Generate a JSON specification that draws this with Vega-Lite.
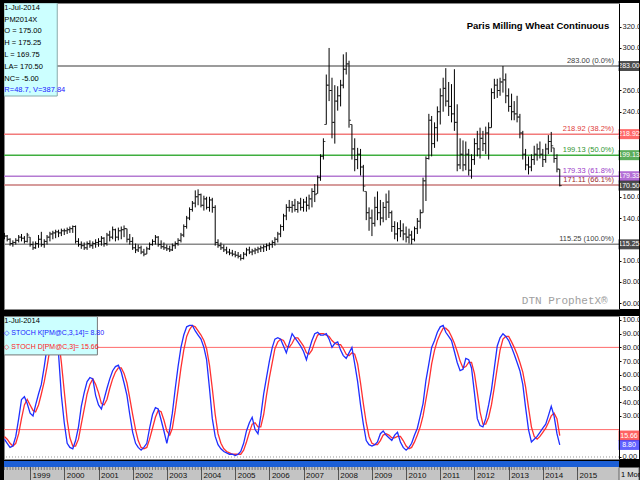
{
"$schema":"https://vega.github.io/schema/vega-lite/v6.json",
"padding":{"left":2,"top":2,"right":0,"bottom":2},
"background":"black",
"spacing":5,
"config":{"font":"Liberation Sans, Arial, sans-serif","view":{"stroke":"#888"},"axis":{"labelFont":"Liberation Sans, Arial, sans-serif","labelFontSize":7.5,"labelColor":"#222","domainColor":"#000","tickColor":"#000","grid":false}},
"datasets":{
"px":[
{"d":"1998-04-01","o":124,"h":126,"l":120,"c":123,"k":13,"s":15},
{"d":"1998-05-01","o":123,"h":124,"l":118,"c":120,"k":10,"s":13},
{"d":"1998-06-01","o":120,"h":121,"l":114,"c":116,"k":7,"s":10},
{"d":"1998-07-01","o":116,"h":119,"l":113,"c":117,"k":8,"s":8},
{"d":"1998-08-01","o":117,"h":121,"l":115,"c":119,"k":15,"s":10},
{"d":"1998-09-01","o":119,"h":124,"l":117,"c":122,"k":28,"s":17},
{"d":"1998-10-01","o":122,"h":125,"l":118,"c":121,"k":42,"s":28},
{"d":"1998-11-01","o":121,"h":123,"l":116,"c":118,"k":44,"s":38},
{"d":"1998-12-01","o":118,"h":126,"l":117,"c":124,"k":39,"s":42},
{"d":"1999-01-01","o":122,"h":122,"l":113,"c":115,"k":32,"s":38},
{"d":"1999-02-01","o":115,"h":118,"l":110,"c":112,"k":30,"s":34},
{"d":"1999-03-01","o":112,"h":118,"l":111,"c":116,"k":38,"s":33},
{"d":"1999-04-01","o":116,"h":124,"l":112,"c":120,"k":46,"s":38},
{"d":"1999-05-01","o":120,"h":127,"l":113,"c":115,"k":53,"s":46},
{"d":"1999-06-01","o":115,"h":120,"l":112,"c":118,"k":66,"s":55},
{"d":"1999-07-01","o":118,"h":124,"l":115,"c":122,"k":80,"s":66},
{"d":"1999-08-01","o":122,"h":127,"l":118,"c":125,"k":90,"s":79},
{"d":"1999-09-01","o":125,"h":128,"l":120,"c":126,"k":94,"s":88},
{"d":"1999-10-01","o":126,"h":129,"l":121,"c":127,"k":88,"s":91},
{"d":"1999-11-01","o":127,"h":129,"l":122,"c":126,"k":75,"s":86},
{"d":"1999-12-01","o":126,"h":130,"l":123,"c":128,"k":45,"s":69},
{"d":"2000-01-01","o":128,"h":130,"l":124,"c":128,"k":25,"s":48},
{"d":"2000-02-01","o":128,"h":131,"l":125,"c":129,"k":10,"s":27},
{"d":"2000-03-01","o":129,"h":132,"l":126,"c":130,"k":7,"s":14},
{"d":"2000-04-01","o":130,"h":133,"l":126,"c":132,"k":6,"s":8},
{"d":"2000-05-01","o":132,"h":133,"l":116,"c":118,"k":12,"s":8},
{"d":"2000-06-01","o":118,"h":121,"l":113,"c":115,"k":22,"s":13},
{"d":"2000-07-01","o":115,"h":118,"l":111,"c":114,"k":37,"s":24},
{"d":"2000-08-01","o":114,"h":117,"l":110,"c":112,"k":47,"s":35},
{"d":"2000-09-01","o":112,"h":118,"l":110,"c":116,"k":55,"s":46},
{"d":"2000-10-01","o":116,"h":119,"l":112,"c":114,"k":58,"s":53},
{"d":"2000-11-01","o":114,"h":118,"l":111,"c":116,"k":57,"s":57},
{"d":"2000-12-01","o":116,"h":120,"l":112,"c":117,"k":45,"s":53},
{"d":"2001-01-01","o":117,"h":121,"l":113,"c":118,"k":38,"s":47},
{"d":"2001-02-01","o":118,"h":123,"l":114,"c":121,"k":35,"s":39},
{"d":"2001-03-01","o":121,"h":122,"l":113,"c":116,"k":42,"s":38},
{"d":"2001-04-01","o":116,"h":126,"l":114,"c":124,"k":50,"s":42},
{"d":"2001-05-01","o":124,"h":128,"l":118,"c":122,"k":57,"s":50},
{"d":"2001-06-01","o":122,"h":132,"l":120,"c":129,"k":63,"s":57},
{"d":"2001-07-01","o":129,"h":130,"l":118,"c":122,"k":66,"s":62},
{"d":"2001-08-01","o":122,"h":131,"l":119,"c":128,"k":67,"s":65},
{"d":"2001-09-01","o":128,"h":132,"l":120,"c":129,"k":62,"s":65},
{"d":"2001-10-01","o":129,"h":133,"l":122,"c":130,"k":54,"s":61},
{"d":"2001-11-01","o":130,"h":130,"l":117,"c":120,"k":45,"s":54},
{"d":"2001-12-01","o":120,"h":125,"l":115,"c":118,"k":31,"s":43},
{"d":"2002-01-01","o":118,"h":122,"l":110,"c":112,"k":18,"s":31},
{"d":"2002-02-01","o":112,"h":116,"l":107,"c":110,"k":10,"s":20},
{"d":"2002-03-01","o":110,"h":115,"l":108,"c":112,"k":7,"s":12},
{"d":"2002-04-01","o":112,"h":114,"l":106,"c":108,"k":5,"s":7},
{"d":"2002-05-01","o":108,"h":111,"l":104,"c":106,"k":7,"s":6},
{"d":"2002-06-01","o":106,"h":113,"l":106,"c":111,"k":10,"s":7},
{"d":"2002-07-01","o":111,"h":117,"l":110,"c":115,"k":21,"s":13},
{"d":"2002-08-01","o":115,"h":120,"l":114,"c":118,"k":31,"s":21},
{"d":"2002-09-01","o":118,"h":124,"l":115,"c":122,"k":36,"s":29},
{"d":"2002-10-01","o":122,"h":123,"l":113,"c":115,"k":35,"s":34},
{"d":"2002-11-01","o":115,"h":119,"l":111,"c":113,"k":27,"s":33},
{"d":"2002-12-01","o":113,"h":117,"l":110,"c":112,"k":19,"s":27},
{"d":"2003-01-01","o":112,"h":115,"l":109,"c":111,"k":10,"s":19},
{"d":"2003-02-01","o":111,"h":114,"l":108,"c":110,"k":20,"s":16},
{"d":"2003-03-01","o":110,"h":116,"l":109,"c":114,"k":32,"s":21},
{"d":"2003-04-01","o":114,"h":118,"l":111,"c":116,"k":50,"s":34},
{"d":"2003-05-01","o":116,"h":121,"l":114,"c":119,"k":66,"s":49},
{"d":"2003-06-01","o":119,"h":126,"l":117,"c":124,"k":80,"s":65},
{"d":"2003-07-01","o":124,"h":134,"l":122,"c":132,"k":89,"s":78},
{"d":"2003-08-01","o":132,"h":142,"l":130,"c":140,"k":95,"s":88},
{"d":"2003-09-01","o":140,"h":150,"l":138,"c":148,"k":96,"s":93},
{"d":"2003-10-01","o":148,"h":156,"l":146,"c":154,"k":96,"s":96},
{"d":"2003-11-01","o":154,"h":166,"l":150,"c":160,"k":92,"s":95},
{"d":"2003-12-01","o":160,"h":167,"l":152,"c":162,"k":89,"s":92},
{"d":"2004-01-01","o":162,"h":163,"l":150,"c":152,"k":86,"s":89},
{"d":"2004-02-01","o":152,"h":161,"l":147,"c":158,"k":80,"s":85},
{"d":"2004-03-01","o":158,"h":160,"l":148,"c":150,"k":71,"s":79},
{"d":"2004-04-01","o":150,"h":160,"l":146,"c":157,"k":50,"s":67},
{"d":"2004-05-01","o":157,"h":159,"l":145,"c":150,"k":28,"s":50},
{"d":"2004-06-01","o":150,"h":152,"l":114,"c":117,"k":15,"s":31},
{"d":"2004-07-01","o":117,"h":120,"l":112,"c":114,"k":9,"s":17},
{"d":"2004-08-01","o":114,"h":117,"l":110,"c":112,"k":6,"s":10},
{"d":"2004-09-01","o":112,"h":115,"l":108,"c":110,"k":4,"s":6},
{"d":"2004-10-01","o":110,"h":113,"l":106,"c":108,"k":3,"s":4},
{"d":"2004-11-01","o":108,"h":111,"l":105,"c":107,"k":2,"s":3},
{"d":"2004-12-01","o":107,"h":110,"l":104,"c":106,"k":2,"s":2},
{"d":"2005-01-01","o":106,"h":109,"l":103,"c":105,"k":1,"s":2},
{"d":"2005-02-01","o":105,"h":108,"l":102,"c":104,"k":2,"s":2},
{"d":"2005-03-01","o":104,"h":106,"l":100,"c":102,"k":4,"s":2},
{"d":"2005-04-01","o":102,"h":108,"l":101,"c":106,"k":10,"s":5},
{"d":"2005-05-01","o":106,"h":112,"l":104,"c":110,"k":19,"s":11},
{"d":"2005-06-01","o":110,"h":113,"l":106,"c":108,"k":25,"s":18},
{"d":"2005-07-01","o":108,"h":111,"l":105,"c":109,"k":29,"s":24},
{"d":"2005-08-01","o":109,"h":112,"l":106,"c":110,"k":20,"s":25},
{"d":"2005-09-01","o":110,"h":113,"l":107,"c":111,"k":17,"s":22},
{"d":"2005-10-01","o":111,"h":114,"l":108,"c":112,"k":30,"s":22},
{"d":"2005-11-01","o":112,"h":115,"l":108,"c":113,"k":46,"s":31},
{"d":"2005-12-01","o":113,"h":116,"l":109,"c":114,"k":58,"s":45},
{"d":"2006-01-01","o":114,"h":117,"l":110,"c":115,"k":70,"s":58},
{"d":"2006-02-01","o":115,"h":119,"l":112,"c":117,"k":80,"s":69},
{"d":"2006-03-01","o":117,"h":122,"l":114,"c":120,"k":86,"s":79},
{"d":"2006-04-01","o":120,"h":127,"l":117,"c":125,"k":87,"s":84},
{"d":"2006-05-01","o":125,"h":134,"l":122,"c":132,"k":86,"s":86},
{"d":"2006-06-01","o":132,"h":144,"l":128,"c":142,"k":81,"s":85},
{"d":"2006-07-01","o":142,"h":153,"l":138,"c":150,"k":76,"s":81},
{"d":"2006-08-01","o":150,"h":157,"l":146,"c":150,"k":83,"s":80},
{"d":"2006-09-01","o":150,"h":156,"l":145,"c":152,"k":90,"s":83},
{"d":"2006-10-01","o":152,"h":158,"l":146,"c":148,"k":87,"s":87},
{"d":"2006-11-01","o":148,"h":156,"l":145,"c":154,"k":84,"s":87},
{"d":"2006-12-01","o":154,"h":159,"l":147,"c":150,"k":81,"s":84},
{"d":"2007-01-01","o":150,"h":158,"l":146,"c":155,"k":77,"s":81},
{"d":"2007-02-01","o":155,"h":160,"l":146,"c":152,"k":71,"s":76},
{"d":"2007-03-01","o":152,"h":162,"l":148,"c":158,"k":78,"s":75},
{"d":"2007-04-01","o":158,"h":168,"l":150,"c":165,"k":85,"s":78},
{"d":"2007-05-01","o":165,"h":172,"l":155,"c":162,"k":90,"s":84},
{"d":"2007-06-01","o":163,"h":180,"l":163,"c":178,"k":91,"s":89},
{"d":"2007-07-01","o":178,"h":200,"l":175,"c":198,"k":89,"s":90},
{"d":"2007-08-01","o":198,"h":215,"l":195,"c":212,"k":89,"s":90},
{"d":"2007-09-01","o":228,"h":275,"l":228,"c":265,"k":90,"s":89},
{"d":"2007-10-01","o":265,"h":300,"l":250,"c":260,"k":86,"s":88},
{"d":"2007-11-01","o":260,"h":272,"l":215,"c":230,"k":80,"s":85},
{"d":"2007-12-01","o":230,"h":265,"l":210,"c":250,"k":83,"s":83},
{"d":"2008-01-01","o":250,"h":264,"l":241,"c":255,"k":84,"s":82},
{"d":"2008-02-01","o":255,"h":270,"l":245,"c":265,"k":78,"s":82},
{"d":"2008-03-01","o":265,"h":294,"l":262,"c":280,"k":74,"s":79},
{"d":"2008-04-01","o":280,"h":296,"l":275,"c":285,"k":72,"s":75},
{"d":"2008-05-01","o":285,"h":288,"l":225,"c":232,"k":76,"s":74},
{"d":"2008-06-01","o":228,"h":228,"l":195,"c":205,"k":80,"s":76},
{"d":"2008-07-01","o":205,"h":215,"l":184,"c":195,"k":68,"s":75},
{"d":"2008-08-01","o":195,"h":206,"l":186,"c":200,"k":55,"s":68},
{"d":"2008-09-01","o":200,"h":205,"l":180,"c":188,"k":38,"s":54},
{"d":"2008-10-01","o":188,"h":190,"l":165,"c":170,"k":24,"s":39},
{"d":"2008-11-01","o":165,"h":165,"l":138,"c":145,"k":12,"s":25},
{"d":"2008-12-01","o":145,"h":150,"l":128,"c":140,"k":9,"s":15},
{"d":"2009-01-01","o":140,"h":148,"l":123,"c":135,"k":8,"s":10},
{"d":"2009-02-01","o":135,"h":160,"l":132,"c":150,"k":9,"s":9},
{"d":"2009-03-01","o":150,"h":165,"l":138,"c":145,"k":11,"s":9},
{"d":"2009-04-01","o":145,"h":157,"l":133,"c":140,"k":17,"s":12},
{"d":"2009-05-01","o":140,"h":155,"l":136,"c":150,"k":19,"s":16},
{"d":"2009-06-01","o":150,"h":163,"l":138,"c":155,"k":16,"s":17},
{"d":"2009-07-01","o":155,"h":166,"l":140,"c":145,"k":14,"s":16},
{"d":"2009-08-01","o":145,"h":147,"l":127,"c":132,"k":12,"s":14},
{"d":"2009-09-01","o":132,"h":137,"l":120,"c":125,"k":16,"s":14},
{"d":"2009-10-01","o":125,"h":136,"l":118,"c":130,"k":18,"s":15},
{"d":"2009-11-01","o":130,"h":138,"l":122,"c":128,"k":11,"s":15},
{"d":"2009-12-01","o":128,"h":135,"l":119,"c":125,"k":7,"s":12},
{"d":"2010-01-01","o":125,"h":132,"l":117,"c":122,"k":5,"s":8},
{"d":"2010-02-01","o":122,"h":130,"l":116,"c":124,"k":7,"s":6},
{"d":"2010-03-01","o":124,"h":128,"l":115.25,"c":120,"k":10,"s":7},
{"d":"2010-04-01","o":120,"h":132,"l":118,"c":130,"k":16,"s":11},
{"d":"2010-05-01","o":130,"h":140,"l":125,"c":137,"k":21,"s":16},
{"d":"2010-06-01","o":137,"h":148,"l":130,"c":145,"k":30,"s":22},
{"d":"2010-07-01","o":145,"h":178,"l":145,"c":175,"k":39,"s":30},
{"d":"2010-08-01","o":175,"h":198,"l":156,"c":196,"k":56,"s":42},
{"d":"2010-09-01","o":196,"h":238,"l":195,"c":232,"k":68,"s":54},
{"d":"2010-10-01","o":232,"h":236,"l":198,"c":210,"k":80,"s":68},
{"d":"2010-11-01","o":210,"h":230,"l":206,"c":225,"k":85,"s":78},
{"d":"2010-12-01","o":225,"h":245,"l":212,"c":240,"k":91,"s":85},
{"d":"2011-01-01","o":240,"h":262,"l":228,"c":255,"k":95,"s":90},
{"d":"2011-02-01","o":255,"h":272,"l":240,"c":262,"k":96,"s":94},
{"d":"2011-03-01","o":262,"h":281,"l":245,"c":250,"k":91,"s":94},
{"d":"2011-04-01","o":250,"h":268,"l":236,"c":245,"k":88,"s":92},
{"d":"2011-05-01","o":245,"h":266,"l":230,"c":238,"k":85,"s":88},
{"d":"2011-06-01","o":238,"h":280,"l":222,"c":230,"k":77,"s":83},
{"d":"2011-07-01","o":230,"h":247,"l":184,"c":190,"k":69,"s":77},
{"d":"2011-08-01","o":190,"h":215,"l":186,"c":200,"k":63,"s":70},
{"d":"2011-09-01","o":200,"h":213,"l":184,"c":190,"k":64,"s":65},
{"d":"2011-10-01","o":190,"h":212,"l":185,"c":200,"k":72,"s":66},
{"d":"2011-11-01","o":200,"h":205,"l":180,"c":185,"k":71,"s":69},
{"d":"2011-12-01","o":185,"h":200,"l":177,"c":195,"k":65,"s":69},
{"d":"2012-01-01","o":195,"h":215,"l":190,"c":210,"k":47,"s":61},
{"d":"2012-02-01","o":210,"h":222,"l":198,"c":205,"k":28,"s":47},
{"d":"2012-03-01","o":205,"h":225,"l":196,"c":215,"k":23,"s":33},
{"d":"2012-04-01","o":215,"h":222,"l":203,"c":210,"k":22,"s":24},
{"d":"2012-05-01","o":210,"h":226,"l":200,"c":220,"k":28,"s":24},
{"d":"2012-06-01","o":220,"h":230,"l":195,"c":225,"k":38,"s":29},
{"d":"2012-07-01","o":225,"h":262,"l":225,"c":258,"k":49,"s":38},
{"d":"2012-08-01","o":258,"h":271,"l":252,"c":265,"k":65,"s":51},
{"d":"2012-09-01","o":265,"h":271,"l":253,"c":260,"k":81,"s":65},
{"d":"2012-10-01","o":260,"h":272,"l":255,"c":268,"k":87,"s":78},
{"d":"2012-11-01","o":268,"h":283,"l":258,"c":270,"k":90,"s":86},
{"d":"2012-12-01","o":270,"h":276,"l":248,"c":255,"k":88,"s":88},
{"d":"2013-01-01","o":255,"h":262,"l":240,"c":245,"k":85,"s":88},
{"d":"2013-02-01","o":245,"h":257,"l":232,"c":240,"k":80,"s":84},
{"d":"2013-03-01","o":240,"h":250,"l":232,"c":238,"k":75,"s":80},
{"d":"2013-04-01","o":238,"h":255,"l":230,"c":235,"k":69,"s":75},
{"d":"2013-05-01","o":235,"h":238,"l":215,"c":220,"k":63,"s":69},
{"d":"2013-06-01","o":220,"h":222,"l":195,"c":200,"k":53,"s":62},
{"d":"2013-07-01","o":200,"h":205,"l":185,"c":190,"k":36,"s":51},
{"d":"2013-08-01","o":190,"h":198,"l":181,"c":188,"k":20,"s":36},
{"d":"2013-09-01","o":188,"h":200,"l":184,"c":195,"k":11,"s":22},
{"d":"2013-10-01","o":195,"h":208,"l":190,"c":200,"k":13,"s":15},
{"d":"2013-11-01","o":200,"h":210,"l":194,"c":205,"k":15,"s":13},
{"d":"2013-12-01","o":205,"h":212,"l":196,"c":200,"k":18,"s":15},
{"d":"2014-01-01","o":200,"h":205,"l":188,"c":195,"k":21,"s":18},
{"d":"2014-02-01","o":195,"h":210,"l":192,"c":205,"k":24,"s":21},
{"d":"2014-03-01","o":205,"h":218,"l":200,"c":212,"k":30,"s":25},
{"d":"2014-04-01","o":212,"h":221,"l":202,"c":208,"k":37,"s":30},
{"d":"2014-05-01","o":206,"h":206,"l":192,"c":196,"k":30,"s":32},
{"d":"2014-06-01","o":196,"h":200,"l":183,"c":186,"k":17,"s":28},
{"d":"2014-07-01","o":186,"h":186,"l":169.75,"c":170.5,"k":8.8,"s":15.66}
],
"fib":[
{"p":283,"lab":"283.00 (0.0%)"},
{"p":218.92,"lab":"218.92 (38.2%)"},
{"p":199.13,"lab":"199.13 (50.0%)"},
{"p":179.33,"lab":"179.33 (61.8%)"},
{"p":171.11,"lab":"171.11 (66.1%)"},
{"p":115.25,"lab":"115.25 (100.0%)"}
],
"box":[
{"p":283,"t":"283.00"},
{"p":218.92,"t":"218.92"},
{"p":199.13,"t":"199.13"},
{"p":179.33,"t":"179.33"},
{"p":170.5,"t":"170.50"},
{"p":115.25,"t":"115.25"}
],
"lv":[{"v":80},{"v":20}],
"sbox":[{"v":15.66,"t":"15.66"},{"v":8.8,"t":"8.80"}],
"one":[{}]
},
"vconcat":[
{
"width":615,"height":306,
"view":{"fill":"white","stroke":"#888"},
"layer":[
{"data":{"name":"one"},"mark":{"type":"rect","fill":"white"},
 "encoding":{"x":{"datum":{"year":2016,"month":3,"date":25},"type":"temporal","scale":{"domain":[{"year":1998,"month":3,"date":28},{"year":2016,"month":3,"date":25}]},"axis":null},"x2":{"datum":{"year":2016,"month":10,"date":25}},
 "y":{"datum":54.4,"type":"quantitative","scale":{"domain":[54.4,342.3],"nice":false,"zero":false},"axis":{"orient":"right","values":[60,80,100,140,160,240,260,300,320],"format":".2f","tickSize":2,"labelPadding":1,"title":null,"zindex":1}},"y2":{"datum":342.3}}},
{"data":{"name":"fib"},"mark":{"type":"rule","strokeWidth":1.5},
 "encoding":{"y":{"field":"p","type":"quantitative","axis":{"orient":"right","values":[60,80,100,140,160,240,260,300,320],"format":".2f","tickSize":2,"labelPadding":1,"title":null,"zindex":1}},
 "color":{"field":"lab","type":"nominal","legend":null,"scale":{"domain":["283.00 (0.0%)","218.92 (38.2%)","199.13 (50.0%)","179.33 (61.8%)","171.11 (66.1%)","115.25 (100.0%)"],"range":["#7a7a7a","#f27a7a","#3fae3f","#b47ad2","#c87a7a","#8a8a8a"]}}}},
{"data":{"name":"fib"},"mark":{"type":"text","align":"right","baseline":"bottom","dy":-1,"fontSize":7.5},
 "encoding":{"x":{"datum":{"year":2016,"month":2,"date":1},"type":"temporal","axis":null},
 "y":{"field":"p","type":"quantitative","axis":{"orient":"right","values":[60,80,100,140,160,240,260,300,320],"format":".2f","tickSize":2,"labelPadding":1,"title":null,"zindex":1}},"text":{"field":"lab"},
 "color":{"field":"lab","type":"nominal","legend":null,"scale":{"domain":["283.00 (0.0%)","218.92 (38.2%)","199.13 (50.0%)","179.33 (61.8%)","171.11 (66.1%)","115.25 (100.0%)"],"range":["#404040","#e03a3a","#2f962f","#9a3ac8","#9a2a2a","#404040"]}}}},
{"data":{"name":"px"},"mark":{"type":"rule","color":"#000","strokeWidth":1,"clip":true},
 "encoding":{"x":{"field":"d","type":"temporal","axis":null},"y":{"field":"l","type":"quantitative","axis":{"orient":"right","values":[60,80,100,140,160,240,260,300,320],"format":".2f","tickSize":2,"labelPadding":1,"title":null,"zindex":1}},"y2":{"field":"h"}}},
{"data":{"name":"px"},"mark":{"type":"tick","orient":"horizontal","size":2,"thickness":1,"xOffset":-1,"color":"#000","clip":true},
 "encoding":{"x":{"field":"d","type":"temporal","axis":null},"y":{"field":"o","type":"quantitative","axis":{"orient":"right","values":[60,80,100,140,160,240,260,300,320],"format":".2f","tickSize":2,"labelPadding":1,"title":null,"zindex":1}}}},
{"data":{"name":"px"},"mark":{"type":"tick","orient":"horizontal","size":2,"thickness":1,"xOffset":1,"color":"#000","clip":true},
 "encoding":{"x":{"field":"d","type":"temporal","axis":null},"y":{"field":"c","type":"quantitative","axis":{"orient":"right","values":[60,80,100,140,160,240,260,300,320],"format":".2f","tickSize":2,"labelPadding":1,"title":null,"zindex":1}}}},
{"data":{"name":"box"},"mark":{"type":"tick","orient":"horizontal","size":21,"thickness":10},
 "encoding":{"x":{"datum":{"year":2016,"month":7,"date":10},"type":"temporal","axis":null},"y":{"field":"p","type":"quantitative","axis":{"orient":"right","values":[60,80,100,140,160,240,260,300,320],"format":".2f","tickSize":2,"labelPadding":1,"title":null,"zindex":1}},
 "color":{"field":"t","type":"nominal","legend":null,"scale":{"domain":["283.00","218.92","199.13","179.33","170.50","115.25"],"range":["#000000","#ff2a2a","#168a16","#9430c4","#000000","#000000"]}}}},
{"data":{"name":"box"},"mark":{"type":"text","align":"center","baseline":"middle","fontSize":7,"color":"#fff"},
 "encoding":{"x":{"datum":{"year":2016,"month":7,"date":10},"type":"temporal","axis":null},"y":{"field":"p","type":"quantitative","axis":{"orient":"right","values":[60,80,100,140,160,240,260,300,320],"format":".2f","tickSize":2,"labelPadding":1,"title":null,"zindex":1}},"text":{"field":"t"}}},
{"data":{"name":"one"},"mark":{"type":"rect","fill":"#ccffff","stroke":"#88aaaa","strokeWidth":1,"clip":true},
 "encoding":{"x":{"datum":{"year":1998,"month":3,"date":28},"type":"temporal","axis":null},"x2":{"datum":{"year":1999,"month":10,"date":18}},"y":{"datum":342.3,"type":"quantitative","axis":{"orient":"right","values":[60,80,100,140,160,240,260,300,320],"format":".2f","tickSize":2,"labelPadding":1,"title":null,"zindex":1}},"y2":{"datum":254.8}}},
{"data":{"name":"one"},"mark":{"type":"text","align":"left","baseline":"top","fontSize":7.5,"lineHeight":11.8,"color":"#000"},
 "encoding":{"x":{"datum":{"year":1998,"month":4,"date":1},"type":"temporal","axis":null},"y":{"datum":341.5,"type":"quantitative","axis":{"orient":"right","values":[60,80,100,140,160,240,260,300,320],"format":".2f","tickSize":2,"labelPadding":1,"title":null,"zindex":1}},
 "text":{"value":["1-Jul-2014","PM2014X","O = 175.00","H = 175.25","L = 169.75","LA= 170.50","NC= -5.00"]}}},
{"data":{"name":"one"},"mark":{"type":"text","align":"left","baseline":"top","fontSize":7.5,"color":"#2020ff"},
 "encoding":{"x":{"datum":{"year":1998,"month":4,"date":1},"type":"temporal","axis":null},"y":{"datum":264.5,"type":"quantitative","axis":{"orient":"right","values":[60,80,100,140,160,240,260,300,320],"format":".2f","tickSize":2,"labelPadding":1,"title":null,"zindex":1}},
 "text":{"value":"R=48.7, V=387.84"}}},
{"data":{"name":"one"},"mark":{"type":"text","align":"center","baseline":"middle","fontSize":9.5,"fontWeight":"bold","color":"#000"},
 "encoding":{"x":{"datum":{"year":2013,"month":11,"date":10},"type":"temporal","axis":null},"y":{"datum":320.6,"type":"quantitative","axis":{"orient":"right","values":[60,80,100,140,160,240,260,300,320],"format":".2f","tickSize":2,"labelPadding":1,"title":null,"zindex":1}},
 "text":{"value":"Paris Milling Wheat Continuous"}}},
{"data":{"name":"one"},"mark":{"type":"text","align":"left","baseline":"middle","fontSize":11,"font":"Liberation Mono, DejaVu Sans Mono, monospace","color":"#a0a0a0"},
 "encoding":{"x":{"datum":{"year":2013,"month":5,"date":22},"type":"temporal","axis":null},"y":{"datum":61.9,"type":"quantitative","axis":{"orient":"right","values":[60,80,100,140,160,240,260,300,320],"format":".2f","tickSize":2,"labelPadding":1,"title":null,"zindex":1}},
 "text":{"value":"DTN ProphetX®"}}}
],
"resolve":{"scale":{"color":"independent"}}
},
{
"spacing":0,
"vconcat":[
{
"width":615,"height":143,
"view":{"fill":"white","stroke":"#888"},
"layer":[
{"data":{"name":"one"},"mark":{"type":"rect","fill":"white"},
 "encoding":{"x":{"datum":{"year":2016,"month":3,"date":25},"type":"temporal","scale":{"domain":[{"year":1998,"month":3,"date":28},{"year":2016,"month":3,"date":25}]},"axis":null},"x2":{"datum":{"year":2016,"month":10,"date":25}},
 "y":{"datum":-1.46,"type":"quantitative","scale":{"domain":[-1.46,102.9],"nice":false,"zero":false},"axis":{"orient":"right","values":[0,30,40,50,60,70,80,90,100],"format":".2f","tickSize":2,"labelPadding":1,"title":null,"zindex":1}},"y2":{"datum":102.9}}},
{"data":{"name":"lv"},"mark":{"type":"rule","color":"#ff6a6a","strokeWidth":1},
 "encoding":{"y":{"field":"v","type":"quantitative","axis":{"orient":"right","values":[0,30,40,50,60,70,80,90,100],"format":".2f","tickSize":2,"labelPadding":1,"title":null,"zindex":1}}}},
{"data":{"name":"one"},"mark":{"type":"rule","color":"#999","strokeDash":[1,2],"strokeWidth":1},
 "encoding":{"y":{"datum":0,"type":"quantitative","axis":{"orient":"right","values":[0,30,40,50,60,70,80,90,100],"format":".2f","tickSize":2,"labelPadding":1,"title":null,"zindex":1}}}},
{"data":{"name":"px"},"mark":{"type":"line","color":"#ff3030","strokeWidth":1.3,"clip":true},
 "encoding":{"x":{"field":"d","type":"temporal","axis":null},"y":{"field":"s","type":"quantitative","axis":{"orient":"right","values":[0,30,40,50,60,70,80,90,100],"format":".2f","tickSize":2,"labelPadding":1,"title":null,"zindex":1}}}},
{"data":{"name":"px"},"mark":{"type":"line","color":"#1f2fff","strokeWidth":1.3,"clip":true},
 "encoding":{"x":{"field":"d","type":"temporal","axis":null},"y":{"field":"k","type":"quantitative","axis":{"orient":"right","values":[0,30,40,50,60,70,80,90,100],"format":".2f","tickSize":2,"labelPadding":1,"title":null,"zindex":1}}}},
{"data":{"name":"sbox"},"mark":{"type":"tick","orient":"horizontal","size":21,"thickness":10},
 "encoding":{"x":{"datum":{"year":2016,"month":7,"date":10},"type":"temporal","axis":null},"y":{"field":"v","type":"quantitative","axis":{"orient":"right","values":[0,30,40,50,60,70,80,90,100],"format":".2f","tickSize":2,"labelPadding":1,"title":null,"zindex":1}},
 "color":{"field":"t","type":"nominal","legend":null,"scale":{"domain":["15.66","8.80"],"range":["#ff2020","#2020ff"]}}}},
{"data":{"name":"sbox"},"mark":{"type":"text","align":"center","baseline":"middle","fontSize":7,"color":"#fff"},
 "encoding":{"x":{"datum":{"year":2016,"month":7,"date":10},"type":"temporal","axis":null},"y":{"field":"v","type":"quantitative","axis":{"orient":"right","values":[0,30,40,50,60,70,80,90,100],"format":".2f","tickSize":2,"labelPadding":1,"title":null,"zindex":1}},"text":{"field":"t"}}},
{"data":{"name":"one"},"mark":{"type":"rect","fill":"#ccffff","stroke":"#777","strokeWidth":1,"clip":true},
 "encoding":{"x":{"datum":{"year":1998,"month":3,"date":28},"type":"temporal","axis":null},"x2":{"datum":{"year":2000,"month":12,"date":20}},"y":{"datum":102.5,"type":"quantitative","axis":{"orient":"right","values":[0,30,40,50,60,70,80,90,100],"format":".2f","tickSize":2,"labelPadding":1,"title":null,"zindex":1}},"y2":{"datum":74.5}}},
{"data":{"name":"one"},"mark":{"type":"text","align":"left","baseline":"middle","fontSize":7.5,"color":"#000"},
 "encoding":{"x":{"datum":{"year":1998,"month":4,"date":1},"type":"temporal","axis":null},"y":{"datum":99.5,"type":"quantitative","axis":{"orient":"right","values":[0,30,40,50,60,70,80,90,100],"format":".2f","tickSize":2,"labelPadding":1,"title":null,"zindex":1}},"text":{"value":"1-Jul-2014"}}},
{"data":{"name":"one"},"mark":{"type":"text","align":"left","baseline":"middle","fontSize":7,"color":"#2020ff"},
 "encoding":{"x":{"datum":{"year":1998,"month":4,"date":1},"type":"temporal","axis":null},"y":{"datum":90.5,"type":"quantitative","axis":{"orient":"right","values":[0,30,40,50,60,70,80,90,100],"format":".2f","tickSize":2,"labelPadding":1,"title":null,"zindex":1}},"text":{"value":"◇ STOCH K[PM@C,3,14]= 8.80"}}},
{"data":{"name":"one"},"mark":{"type":"text","align":"left","baseline":"middle","fontSize":7,"color":"#ff2020"},
 "encoding":{"x":{"datum":{"year":1998,"month":4,"date":1},"type":"temporal","axis":null},"y":{"datum":80.3,"type":"quantitative","axis":{"orient":"right","values":[0,30,40,50,60,70,80,90,100],"format":".2f","tickSize":2,"labelPadding":1,"title":null,"zindex":1}},"text":{"value":"◇ STOCH D[PM@C,3]= 15.66"}}}
],
"resolve":{"scale":{"color":"independent"}}
},
{
"width":615,"height":22,
"view":{"fill":"#c4c4c4","stroke":null},
"layer":[
{"data":{"name":"one"},"mark":{"type":"rect","fill":"#d6d6d6","stroke":"#666","strokeWidth":1},
 "encoding":{"x":{"datum":{"year":2016,"month":3,"date":25},"type":"temporal","scale":{"domain":[{"year":1998,"month":3,"date":28},{"year":2016,"month":3,"date":25}]},
 "axis":{"orient":"bottom","offset":-16,"format":"%Y","values":[{"year":1999,"month":1,"date":1},{"year":2000,"month":1,"date":1},{"year":2001,"month":1,"date":1},{"year":2002,"month":1,"date":1},{"year":2003,"month":1,"date":1},{"year":2004,"month":1,"date":1},{"year":2005,"month":1,"date":1},{"year":2006,"month":1,"date":1},{"year":2007,"month":1,"date":1},{"year":2008,"month":1,"date":1},{"year":2009,"month":1,"date":1},{"year":2010,"month":1,"date":1},{"year":2011,"month":1,"date":1},{"year":2012,"month":1,"date":1},{"year":2013,"month":1,"date":1},{"year":2014,"month":1,"date":1},{"year":2015,"month":1,"date":1}],"labelAlign":"left","labelBaseline":"top","labelOffset":2,"labelPadding":1,"tickSize":3,"tickColor":"#444","domain":false,"grid":true,"gridColor":"#555","gridOpacity":1,"labelColor":"#111","labelFontSize":8,"title":null}},
 "x2":{"datum":{"year":2016,"month":10,"date":25}},
 "y":{"datum":0.5,"type":"quantitative","scale":{"domain":[0,22],"nice":false},"axis":null},"y2":{"datum":15.5}}},
{"data":{"name":"one"},"mark":{"type":"rect","fill":"#1c5fd6"},
 "encoding":{"x":{"datum":{"year":1998,"month":3,"date":28},"type":"temporal","axis":{"orient":"bottom","offset":-16,"format":"%Y","values":[{"year":1999,"month":1,"date":1},{"year":2000,"month":1,"date":1},{"year":2001,"month":1,"date":1},{"year":2002,"month":1,"date":1},{"year":2003,"month":1,"date":1},{"year":2004,"month":1,"date":1},{"year":2005,"month":1,"date":1},{"year":2006,"month":1,"date":1},{"year":2007,"month":1,"date":1},{"year":2008,"month":1,"date":1},{"year":2009,"month":1,"date":1},{"year":2010,"month":1,"date":1},{"year":2011,"month":1,"date":1},{"year":2012,"month":1,"date":1},{"year":2013,"month":1,"date":1},{"year":2014,"month":1,"date":1},{"year":2015,"month":1,"date":1}],"labelAlign":"left","labelBaseline":"top","labelOffset":2,"labelPadding":1,"tickSize":3,"tickColor":"#444","domain":false,"grid":true,"gridColor":"#555","gridOpacity":1,"labelColor":"#111","labelFontSize":8,"title":null}},
 "x2":{"datum":{"year":2016,"month":3,"date":25}},
 "y":{"datum":16,"type":"quantitative","axis":null},"y2":{"datum":22}}},
{"data":{"name":"px"},"mark":{"type":"tick","orient":"vertical","size":3,"thickness":1,"color":"#555"},
 "encoding":{"x":{"field":"d","type":"temporal","axis":{"orient":"bottom","offset":-16,"format":"%Y","values":[{"year":1999,"month":1,"date":1},{"year":2000,"month":1,"date":1},{"year":2001,"month":1,"date":1},{"year":2002,"month":1,"date":1},{"year":2003,"month":1,"date":1},{"year":2004,"month":1,"date":1},{"year":2005,"month":1,"date":1},{"year":2006,"month":1,"date":1},{"year":2007,"month":1,"date":1},{"year":2008,"month":1,"date":1},{"year":2009,"month":1,"date":1},{"year":2010,"month":1,"date":1},{"year":2011,"month":1,"date":1},{"year":2012,"month":1,"date":1},{"year":2013,"month":1,"date":1},{"year":2014,"month":1,"date":1},{"year":2015,"month":1,"date":1}],"labelAlign":"left","labelBaseline":"top","labelOffset":2,"labelPadding":1,"tickSize":3,"tickColor":"#444","domain":false,"grid":true,"gridColor":"#555","gridOpacity":1,"labelColor":"#111","labelFontSize":8,"title":null}},"y":{"datum":14.5,"type":"quantitative","axis":null}}},
{"data":{"name":"one"},"mark":{"type":"text","align":"left","baseline":"middle","fontSize":7.5,"color":"#000"},
 "encoding":{"x":{"datum":{"year":2016,"month":4,"date":15},"type":"temporal","axis":{"orient":"bottom","offset":-16,"format":"%Y","values":[{"year":1999,"month":1,"date":1},{"year":2000,"month":1,"date":1},{"year":2001,"month":1,"date":1},{"year":2002,"month":1,"date":1},{"year":2003,"month":1,"date":1},{"year":2004,"month":1,"date":1},{"year":2005,"month":1,"date":1},{"year":2006,"month":1,"date":1},{"year":2007,"month":1,"date":1},{"year":2008,"month":1,"date":1},{"year":2009,"month":1,"date":1},{"year":2010,"month":1,"date":1},{"year":2011,"month":1,"date":1},{"year":2012,"month":1,"date":1},{"year":2013,"month":1,"date":1},{"year":2014,"month":1,"date":1},{"year":2015,"month":1,"date":1}],"labelAlign":"left","labelBaseline":"top","labelOffset":2,"labelPadding":1,"tickSize":3,"tickColor":"#444","domain":false,"grid":true,"gridColor":"#555","gridOpacity":1,"labelColor":"#111","labelFontSize":8,"title":null}},"y":{"datum":8,"type":"quantitative","axis":null},"text":{"value":"1 Mon"}}}
]
}
]
}
]
}
